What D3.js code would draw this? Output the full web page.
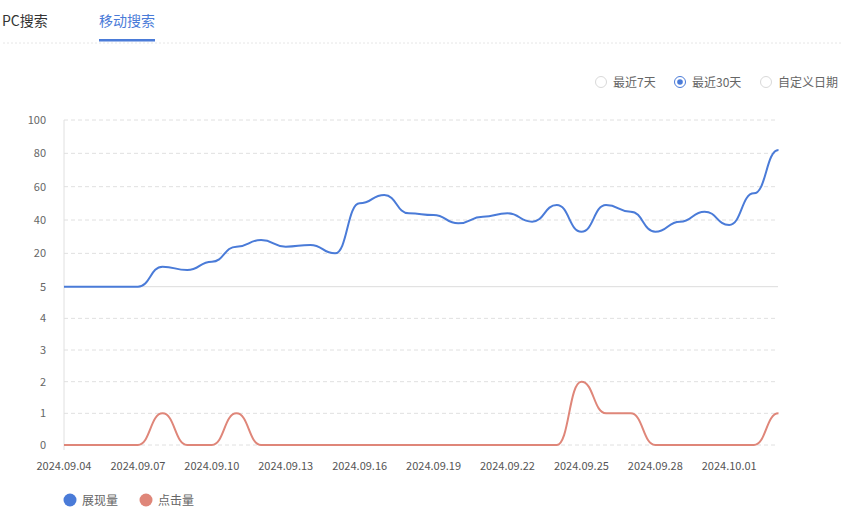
<!DOCTYPE html>
<html><head><meta charset="utf-8">
<script src="https://cdn.jsdelivr.net/npm/d3@7/dist/d3.min.js"></script>
<style>
body{margin:0;background:#fff;font-family:"Microsoft YaHei","Noto Sans CJK SC",sans-serif;}
</style></head>
<body><svg id="c" width="850" height="516"></svg>
<script>
const dates = ["2024.09.04","2024.09.05","2024.09.06","2024.09.07","2024.09.08","2024.09.09","2024.09.10","2024.09.11","2024.09.12","2024.09.13","2024.09.14","2024.09.15","2024.09.16","2024.09.17","2024.09.18","2024.09.19","2024.09.20","2024.09.21","2024.09.22","2024.09.23","2024.09.24","2024.09.25","2024.09.26","2024.09.27","2024.09.28","2024.09.29","2024.09.30","2024.10.01","2024.10.02","2024.10.03"];
const impressions = [0,0,0,0,12,10,15,24,28,24,25,20,50,55,44,43,38,42,44,39,49,33,49,45,33,39,45,37,56,82];
const clicks = [0,0,0,0,1,0,0,1,0,0,0,0,0,0,0,0,0,0,0,0,0,2,1,1,0,0,0,0,0,1];
const upperTicks = [20,40,60,80,100];
const lowerTicks = [0,1,2,3,4,5];
const xTickLabels = ["2024.09.04","2024.09.07","2024.09.10","2024.09.13","2024.09.16","2024.09.19","2024.09.22","2024.09.25","2024.09.28","2024.10.01"];
const seriesNames = ["展现量","点击量"];
const tabs = ["PC搜索","移动搜索"];
const radios = ["最近7天","最近30天","自定义日期"];

const BLUE = "#4a7bd8", RED = "#df8679";
const svg = d3.select("#c");
const font = '"Microsoft YaHei","Noto Sans CJK SC",sans-serif';

// tabs
svg.append("line").attr("x1",3).attr("x2",842).attr("y1",43).attr("y2",43)
  .attr("stroke","#e6e6e6").attr("stroke-dasharray","2,2");
svg.append("text").attr("x",2).attr("y",26).text(tabs[0]).attr("font-size",14).attr("fill","#333").attr("font-family",font);
svg.append("text").attr("x",99).attr("y",26).text(tabs[1]).attr("font-size",14).attr("fill",BLUE).attr("font-family",font);
svg.append("rect").attr("x",99).attr("y",39).attr("width",56).attr("height",2.5).attr("fill",BLUE);

// radios
const rx = [601,680,766];
radios.forEach((t,i)=>{
  svg.append("circle").attr("cx",rx[i]).attr("cy",82).attr("r",5.5).attr("fill","#fff")
    .attr("stroke", i===1?BLUE:"#d9d9d9").attr("stroke-width",1);
  if(i===1) svg.append("circle").attr("cx",rx[i]).attr("cy",82).attr("r",2.8).attr("fill",BLUE);
  svg.append("text").attr("x",rx[i]+12).attr("y",86.5).text(t).attr("font-size",12).attr("fill","#666").attr("font-family",font);
});

// scales
const x = d3.scalePoint().domain(dates).range([64,778.5]);
const yU = d3.scaleLinear().domain([0,100]).range([286.7,120]);
const yL = d3.scaleLinear().domain([0,5]).range([445,286.7]);
const x0 = 64, x1 = 778;

// grid
const g = svg.append("g");
upperTicks.forEach(v=>{
  g.append("line").attr("x1",x0).attr("x2",x1).attr("y1",yU(v)).attr("y2",yU(v))
   .attr("stroke","#e0e0e0").attr("stroke-dasharray","4,3");
});
lowerTicks.forEach(v=>{
  g.append("line").attr("x1",x0).attr("x2",x1).attr("y1",yL(v)).attr("y2",yL(v))
   .attr("stroke", v===5?"#dcdcdc":"#e0e0e0").attr("stroke-dasharray", v===5?null:"4,3");
});
svg.append("line").attr("x1",x0).attr("x2",x0).attr("y1",120).attr("y2",450).attr("stroke","#e0e0e0");

// y labels
const yl = svg.append("g").attr("font-size",11).attr("fill","#666").attr("font-family",font).attr("text-anchor","end");
upperTicks.forEach(v=>yl.append("text").attr("x",46).attr("y",yU(v)+4).text(v));
lowerTicks.forEach(v=>yl.append("text").attr("x",46).attr("y",yL(v)+4).text(v));

// x labels
const xl = svg.append("g").attr("font-size",11).attr("fill","#555").attr("font-family",font).attr("text-anchor","middle");
xTickLabels.forEach(d=>xl.append("text").attr("x",x(d)).attr("y",470).text(d));

// lines
const lineU = d3.line().x((d,i)=>x(dates[i])).y(d=>yU(d)).curve(d3.curveBumpX);
const lineL = d3.line().x((d,i)=>x(dates[i])).y(d=>yL(d)).curve(d3.curveBumpX);
svg.append("path").attr("d",lineL(clicks)).attr("fill","none").attr("stroke",RED).attr("stroke-width",2);
svg.append("path").attr("d",lineU(impressions)).attr("fill","none").attr("stroke",BLUE).attr("stroke-width",2);

// legend
const lc = [BLUE,RED], lx=[70,146];
seriesNames.forEach((n,i)=>{
  svg.append("circle").attr("cx",lx[i]).attr("cy",500).attr("r",6.5).attr("fill",lc[i]);
  svg.append("text").attr("x",lx[i]+12).attr("y",504.5).text(n).attr("font-size",12).attr("fill","#666").attr("font-family",font);
});
</script></body></html>
